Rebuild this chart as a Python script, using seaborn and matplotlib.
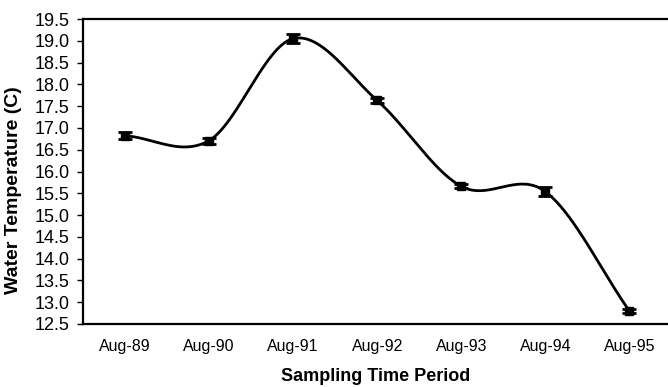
import numpy as np
import pandas as pd
import matplotlib
matplotlib.use("Agg")
import matplotlib.pyplot as plt
import seaborn as sns

periods = ["Aug-89", "Aug-90", "Aug-91", "Aug-92", "Aug-93", "Aug-94", "Aug-95"]
temps = [16.82, 16.71, 19.05, 17.63, 15.66, 15.54, 12.80]
errors = [0.08, 0.07, 0.10, 0.05, 0.05, 0.10, 0.04]

sns.set_theme(style="white")
plt.rcParams['font.family'] = ['Liberation Sans', 'DejaVu Sans']
plt.rcParams.update({"text.color": "black", "axes.labelcolor": "black",
                     "xtick.color": "black", "ytick.color": "black"})

df = pd.DataFrame({"period": periods, "temp": temps, "err": errors})
df["x"] = np.arange(len(df))

# Catmull-Rom smoothed curve (Excel-like smoothing) derived from the data
def catmull(xs, ys, n=40):
    px = np.concatenate([[2*xs[0]-xs[1]], xs, [2*xs[-1]-xs[-2]]])
    py = np.concatenate([[2*ys[0]-ys[1]], ys, [2*ys[-1]-ys[-2]]])
    ox, oy = [], []
    for i in range(1, len(px)-2):
        p0, p1, p2, p3 = py[i-1], py[i], py[i+1], py[i+2]
        t = np.linspace(0, 1, n)
        m1y = (p2 - p0) / 2
        m2y = (p3 - p1) / 2
        h00 = 2*t**3 - 3*t**2 + 1
        h10 = t**3 - 2*t**2 + t
        h01 = -2*t**3 + 3*t**2
        h11 = t**3 - t**2
        oy.append(h00*p1 + h10*m1y + h01*p2 + h11*m2y)
        ox.append(px[i] + t*(px[i+1] - px[i]))
    return np.concatenate(ox), np.concatenate(oy)

sx, sy = catmull(df["x"].values.astype(float), df["temp"].values)
smooth = pd.DataFrame({"x": sx, "y": sy})

fig = plt.figure(figsize=(6.68, 3.87), dpi=100)
ax = fig.add_axes([83/668, 1-324/387, (668-83)/668, (324-19)/387])

sns.lineplot(data=smooth, x="x", y="y", ax=ax, color="black", lw=2, sort=False)
ax.errorbar(df["x"], df["temp"], yerr=df["err"], fmt="s", color="black",
            ms=6, capsize=5, elinewidth=2, capthick=2, zorder=5)

ax.set_xlim(-0.5, 6.46)
ax.set_ylim(12.5, 19.5)
yt = np.arange(12.5, 19.51, 0.5)
ax.set_yticks(yt)
ax.set_yticklabels([f"{v:.1f}" for v in yt], fontsize=13)
ax.set_xticks(df["x"])
ax.set_xticklabels(periods, fontsize=11.5)
ax.set_xticks(np.arange(0.5, 6.0, 1), minor=True)
ax.tick_params(axis="x", which="major", length=0, pad=11)
ax.tick_params(axis="x", which="minor", length=7, direction="inout", width=1, color="black")
ax.tick_params(axis="y", which="major", length=4.3, direction="out", width=1, color="black", pad=5.5, left=True)

for s in ["left", "bottom", "top"]:
    ax.spines[s].set_color("black")
    ax.spines[s].set_linewidth(1.6)
ax.spines["right"].set_visible(False)

ax.set_xlabel("Sampling Time Period", fontsize=13, fontweight="bold", labelpad=10)
ax.set_ylabel("Water Temperature (C)", fontsize=14, fontweight="bold")
ax.yaxis.set_label_coords(-61/585, (324-190)/305)

fig.savefig("out.png", dpi=100)
